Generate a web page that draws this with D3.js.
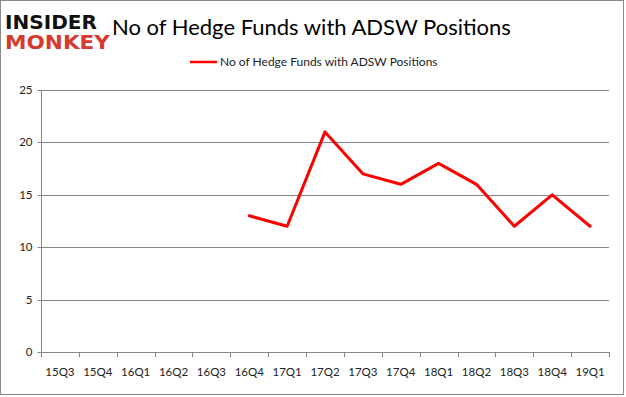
<!DOCTYPE html>
<html><head><meta charset="utf-8">
<script src="https://cdn.jsdelivr.net/npm/d3@7"></script>
<style>body{margin:0;background:#fff}svg{display:block}</style>
</head><body>
<script>
const categories = ["15Q3","15Q4","16Q1","16Q2","16Q3","16Q4","17Q1","17Q2","17Q3","17Q4","18Q1","18Q2","18Q3","18Q4","19Q1"];
const values = [null,null,null,null,null,13,12,21,17,16,18,16,12,15,12];
const yTicks = [0,5,10,15,20,25];
const seriesName = "No of Hedge Funds with ADSW Positions";
const titleText = "No of Hedge Funds with ADSW Positions";

const W = 626, H = 397;
const svg = d3.select("body").append("svg").attr("width", W).attr("height", H);
svg.append("rect").attr("x",0.5).attr("y",0.5).attr("width",W-3).attr("height",H-3)
  .attr("fill","#fff").attr("stroke","#8a8a8a");

const font = "Lato, 'Open Sans', sans-serif";
const x = d3.scaleBand().domain(categories).range([41, 609]);
const y = d3.scaleLinear().domain([0, 25]).range([352, 90]);

// gridlines
svg.append("g").selectAll("line").data(yTicks.filter(d=>d>0)).join("line")
  .attr("x1",41).attr("x2",609).attr("y1",d=>Math.round(y(d))+0.5).attr("y2",d=>Math.round(y(d))+0.5)
  .attr("stroke","#868686").attr("stroke-width",1);

// y axis
const ya = svg.append("g").attr("transform","translate(41.5,0.5)")
  .call(d3.axisLeft(y).tickValues(yTicks).tickSize(4).tickPadding(5));
ya.select(".domain").attr("stroke","#868686").attr("d","M0,"+Math.round(y(25))+"V"+Math.round(y(0)));
ya.selectAll(".tick line").attr("stroke","#868686");
ya.selectAll("text").attr("font-family",font).attr("font-size",11.5).attr("fill","#222");
ya.selectAll(".tick").attr("transform", d=>"translate(0,"+Math.round(y(d))+")");

// x axis
const xa = svg.append("g").attr("transform","translate(0,"+(Math.round(y(0))+0.5)+")")
  .call(d3.axisBottom(x).tickSize(0).tickPadding(15));
xa.select(".domain").attr("stroke","#868686").attr("d","M41,0H609");
xa.selectAll("text").attr("font-family",font).attr("font-size",11.5).attr("fill","#222");
const bounds = categories.map(c=>x(c)).concat([x.range()[1]]);
svg.append("g").selectAll("line").data(bounds).join("line")
  .attr("x1",d=>Math.round(d)+0.5).attr("x2",d=>Math.round(d)+0.5)
  .attr("y1",Math.round(y(0))).attr("y2",Math.round(y(0))+5)
  .attr("stroke","#868686");

// line
const line = d3.line().defined(d=>d.v!=null)
  .x(d=>x(d.c)+x.bandwidth()/2).y(d=>y(d.v));
svg.append("path").datum(categories.map((c,i)=>({c, v:values[i]})))
  .attr("d", line).attr("fill","none").attr("stroke","#ff0000").attr("stroke-width",3)
  .attr("stroke-linejoin","round").attr("stroke-linecap","round");

// title
svg.append("text").attr("x",112).attr("y",35).attr("font-family",font)
  .attr("font-size",22).attr("fill","#000").text(titleText);

// legend
svg.append("line").attr("x1",190).attr("x2",217).attr("y1",62).attr("y2",62)
  .attr("stroke","#ff0000").attr("stroke-width",2.5);
svg.append("text").attr("x",220).attr("y",66).attr("font-family",font)
  .attr("font-size",12).attr("fill","#222").text(seriesName);

// logo
svg.append("text").attr("x",5).attr("y",29).attr("font-family","'DejaVu Sans', sans-serif")
  .attr("font-weight","bold").attr("font-size",19).attr("fill","#111")
  .attr("textLength",92).attr("lengthAdjust","spacingAndGlyphs").text("INSIDER");
svg.append("text").attr("x",5).attr("y",49).attr("font-family","'DejaVu Sans', sans-serif")
  .attr("font-weight","bold").attr("font-size",19).attr("fill","#d63a2f")
  .attr("textLength",105).attr("lengthAdjust","spacingAndGlyphs").text("MONKEY");
</script>
</body></html>
